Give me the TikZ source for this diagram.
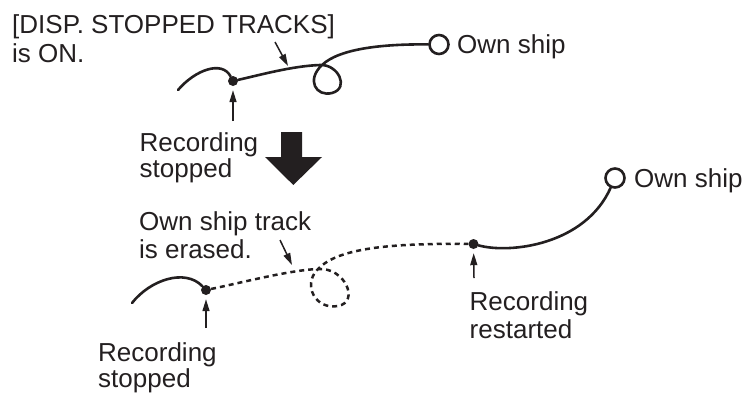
\documentclass[tikz,border=0pt]{standalone}
\usepackage{fontspec}
\setmainfont{Liberation Sans}
\usepackage{xcolor}
\usetikzlibrary{arrows.meta}
\definecolor{ink}{RGB}{35,31,32}

\begin{document}
\begin{tikzpicture}[x=1pt,y=-1pt,ink,>={Triangle[length=12pt,width=7pt]},
  lbl/.style={anchor=base west,inner sep=0pt,align=left,font=\fontsize{26}{28.5}\selectfont},
  lbltight/.style={lbl,font=\fontsize{26}{23.8}\selectfont},
  track/.style={line width=2.6pt,line cap=round},
  erased/.style={line width=2.5pt,dash pattern=on 5pt off 4pt},
  fix/.style={circle,fill=ink,inner sep=0pt,minimum size=10pt},
  ship/.style={circle,draw=ink,line width=2.6pt,inner sep=0pt,minimum size=19pt},
  ptr/.style={->,line width=1.5pt,shorten >=4pt}]
  \useasboundingbox (0,0) rectangle (746,392);
  % before: tracks still drawn
  \node[fix] (fix1) at (233,81) {};
  \node[ship] (ship1) at (439,44.5) {};
  \coordinate (start1) at (178,90);
  \draw[track] (start1) .. controls (195,70) and (222,60) .. (fix1);
  \draw[track] (fix1) .. controls (260,75) and (292,66) .. (320,65)
    .. controls (338,64) and (350,88) .. (332,93)
    .. controls (316,97) and (306,80) .. (322,65)
    .. controls (340,48) and (385,44) .. (ship1);
  % base of a two-line label = baseline of its last line
  \node[lbl] (disp) at (12,62) {[DISP. STOPPED TRACKS]\\is ON.};
  \node[lbl] (own1) at (457,53) {Own ship};
  \node[lbltight] (stop1) at (139.5,177) {Recording\\stopped};
  \coordinate (dispfrom) at (275,42); \coordinate (dispto) at (288,66);
  \draw[ptr,shorten >=0pt] (dispfrom) -- (dispto);
  \coordinate (stop1from) at (233,121);
  \draw[ptr] (stop1from) -- (fix1);
  % big arrow
  \fill (281,132) -- (302,132) -- (302,157) -- (322,157) -- (293.3,185)
    -- (265,157) -- (281,157) -- cycle;
  % after: erased part
  \node[fix] (fix2) at (206,290) {};
  \node[fix] (fix3) at (473.5,244) {};
  \node[ship] (ship2) at (615,178) {};
  \coordinate (start2) at (132,303);
  \draw[track] (start2) .. controls (150,280) and (185,268) .. (fix2);
  \draw[erased] (fix2) .. controls (240,283) and (290,270) .. (318,269)
    .. controls (345,267) and (360,302) .. (338,306)
    .. controls (315,310) and (303,285) .. (317,270)
    .. controls (335,250) and (380,243) .. (fix3);
  \draw[track] (fix3) .. controls (510,254) and (585,245) .. (ship2);
  \node[lbl] (erase) at (139,258.5) {Own ship track\\is erased.};
  \node[lbltight] (stop2) at (98,387) {Recording\\stopped};
  \node[lbl] (restart) at (469.5,338.5) {Recording\\restarted};
  \node[lbl] (own2) at (634,187.3) {Own ship};
  \coordinate (erasefrom) at (280,240); \coordinate (eraseto) at (292,265);
  \draw[ptr,shorten >=0pt] (erasefrom) -- (eraseto);
  \coordinate (stop2from) at (206,328);
  \draw[ptr] (stop2from) -- (fix2);
  \coordinate (restartfrom) at (474,278);
  \draw[ptr] (restartfrom) -- (fix3);
\end{tikzpicture}
\end{document}
